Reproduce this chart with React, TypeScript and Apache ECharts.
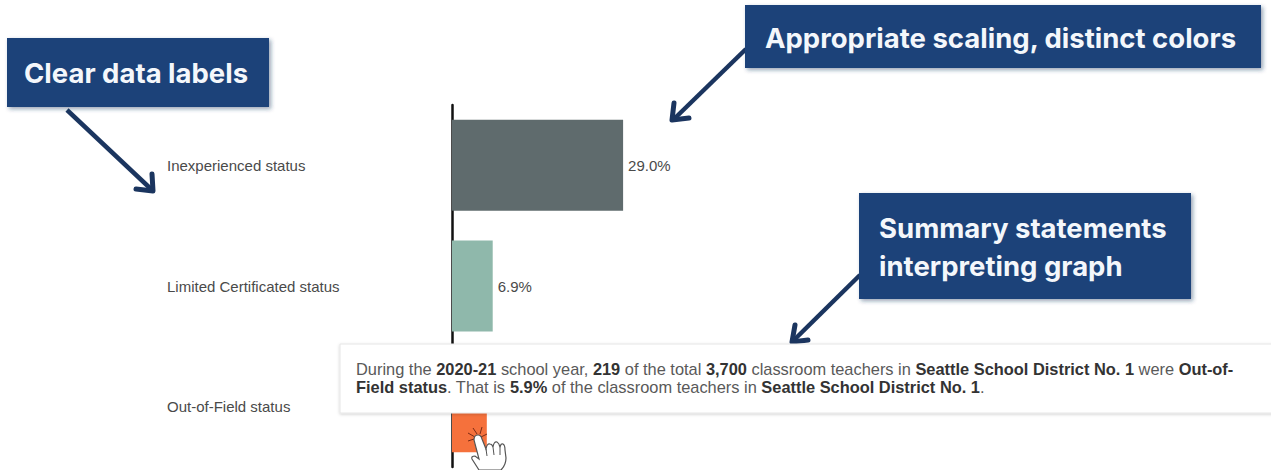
import React, { useEffect, useRef } from "react";
import * as echarts from "echarts";

const categories = ["Inexperienced status", "Limited Certificated status", "Out-of-Field status"];
const percentages = [29.0, 6.9, 5.9];
const barColors = ["#5f6b6d", "#8fb8ab", "#f5713c"];

const callouts = [
  { lines: ["Clear data labels"], box: [7, 38, 262, 69], textX: 24, centers: [73] },
  { lines: ["Appropriate scaling, distinct colors"], box: [745, 5, 516, 63], textX: 765, centers: [38] },
  { lines: ["Summary statements", "interpreting graph"], box: [859, 193, 332, 106], textX: 879, centers: [228, 266] },
];

const arrows = [
  { shaft: [[67, 110], [152, 190]], head: [[136, 189], [153, 191], [152, 174]] },
  { shaft: [[746, 49], [673, 120]], head: [[674, 103], [672, 120], [689, 118]] },
  { shaft: [[860, 275], [794, 340]], head: [[795, 325], [792, 342], [808, 340]] },
];

const summaryLines = [
  "{n|During the }{b|2020-21}{n| school year, }{b|219}{n| of the total }{b|3,700}{n| classroom teachers in }{b|Seattle School District No. 1}{n| were }{b|Out-of-}",
  "{b|Field status}{n|. That is }{b|5.9%}{n| of the classroom teachers in }{b|Seattle School District No. 1}{n|.}",
];

const handOutline =
  "M8 40 L1 29 Q0 26 4 26 L8 29 L3 10 Q3 5 7 5 Q10 5 11 9 L15 19 Q16 13 19 14 Q21 14 22 17 Q23 11 26 12 Q28 13 29 17 Q30 13 32 14 Q34 15 34 20 L35 28 Q35 35 30 40 Z";
const handFingers = "M15 19 L16 26 M22 17 L23 25 M29 17 L29 25";

const clickSpokes = [
  [[468, 433], [475, 437]],
  [[473, 428], [477, 434]],
  [[482, 427], [480, 434]],
  [[487, 434], [481, 437]],
  [[468, 441], [474, 439]],
];

echarts.graphic.registerShape("pointerHand", echarts.graphic.extendPath(handOutline, {}));
echarts.graphic.registerShape("pointerFingers", echarts.graphic.extendPath(handFingers, {}));

function buildGraphics() {
  const elements: any[] = [];

  arrows.forEach((a) => {
    elements.push({
      type: "line",
      z: 20,
      shape: { x1: a.shaft[0][0], y1: a.shaft[0][1], x2: a.shaft[1][0], y2: a.shaft[1][1] },
      style: { stroke: "#1b355f", lineWidth: 4.5 },
    });
    elements.push({
      type: "polyline",
      z: 20,
      shape: { points: a.head },
      style: { stroke: "#1b355f", lineWidth: 5, fill: "none", lineCap: "round", lineJoin: "round" },
    });
  });

  callouts.forEach((c) => {
    elements.push({
      type: "rect",
      z: 21,
      shape: { x: c.box[0], y: c.box[1], width: c.box[2], height: c.box[3] },
      style: {
        fill: "#1f4379",
        shadowBlur: 4,
        shadowColor: "rgba(30,50,90,0.45)",
        shadowOffsetX: 2,
        shadowOffsetY: 2,
      },
    });
    c.lines.forEach((line, i) => {
      elements.push({
        type: "text",
        z: 22,
        x: c.textX,
        y: c.centers[i],
        style: {
          text: line,
          fill: "#f4f7fb",
          font: "700 27.5px Inter",
          verticalAlign: "middle",
        },
      });
    });
  });

  // Hover card that sits over the third bar
  elements.push({
    type: "rect",
    z: 30,
    shape: { x: 340, y: 344, width: 940, height: 69 },
    style: { fill: "#ffffff", stroke: "#e6e6e6", lineWidth: 1, shadowBlur: 3, shadowColor: "rgba(0,0,0,0.18)", shadowOffsetY: 1 },
  });
  const rich = {
    n: { font: "16.4px 'Liberation Sans'", fill: "#595959", lineHeight: 18 },
    b: { font: "bold 16.4px 'Liberation Sans'", fill: "#333333", lineHeight: 18 },
  };
  elements.push({
    type: "text",
    z: 31,
    x: 356,
    y: 360,
    style: { text: summaryLines.join("\n"), rich },
  });

  // Click burst and pointer over the orange bar
  clickSpokes.forEach((s) => {
    elements.push({
      type: "line",
      z: 32,
      shape: { x1: s[0][0], y1: s[0][1], x2: s[1][0], y2: s[1][1] },
      style: { stroke: "#7a2a14", lineWidth: 1 },
    });
  });
  elements.push({
    type: "pointerHand",
    z: 33,
    x: 471,
    y: 430,
    style: { fill: "#ffffff", stroke: "#555555", lineWidth: 1.2 },
  });
  elements.push({
    type: "pointerFingers",
    z: 33,
    x: 471,
    y: 430,
    style: { fill: "none", stroke: "#555555", lineWidth: 1 },
  });
  return elements;
}

export default function App() {
  const ref = useRef<HTMLDivElement>(null);

  useEffect(() => {
    const chart = echarts.init(ref.current!, undefined, { renderer: "svg" });
    chart.setOption({
      animation: false,
      backgroundColor: "#ffffff",
      grid: { left: 452, top: 105, width: 590, height: 362 },
      xAxis: { type: "value", min: 0, max: 100, show: false },
      yAxis: {
        type: "category",
        inverse: true,
        data: categories,
        axisTick: { show: false },
        axisLine: { lineStyle: { color: "#111111", width: 2.5 } },
        axisLabel: {
          align: "left",
          margin: 285,
          color: "#4a4a4a",
          fontSize: 15,
          fontFamily: "'Liberation Sans'",
          padding: [0, 0, 2, 0],
        },
      },
      series: [
        {
          type: "bar",
          barWidth: 91,
          data: percentages.map((value, i) => ({ value, itemStyle: { color: barColors[i] } })),
          label: {
            show: true,
            position: "right",
            distance: 5,
            color: "#4a4a4a",
            fontSize: 15,
            fontFamily: "'Liberation Sans'",
            padding: [0, 0, 2, 0],
            formatter: (p: any) => `${p.value.toFixed(1)}%`,
          },
        },
      ],
      graphic: { elements: buildGraphics() },
    });
    return () => chart.dispose();
  }, []);

  return <div ref={ref} style={{ position: "absolute", left: 0, top: 0, width: 1271, height: 470 }} />;
}
